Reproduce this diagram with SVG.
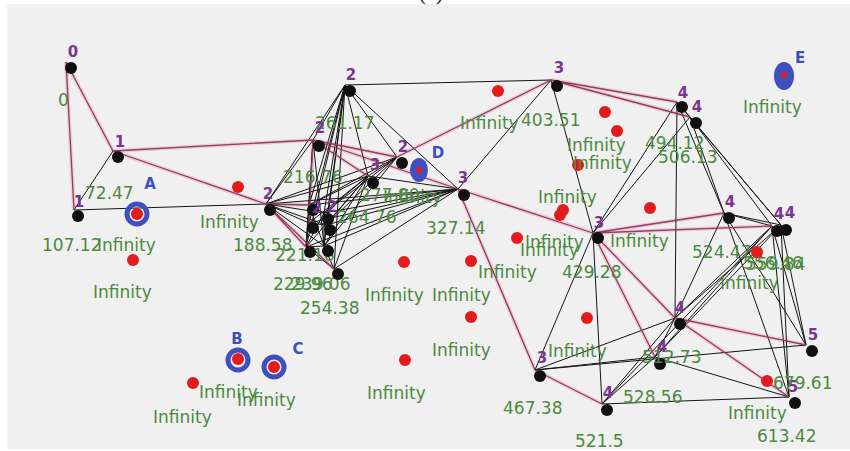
<svg xmlns="http://www.w3.org/2000/svg" xmlns:xlink="http://www.w3.org/1999/xlink" width="850" height="451" viewBox="0 0 850 451">
<style>
.e{stroke:#141414;stroke-width:1;fill:none}
.ph{stroke:#efb3c6;stroke-width:4;fill:none;opacity:.6}
.p{stroke:#8e3f62;stroke-width:1.3;fill:none}
.n{fill:#111}
.r{fill:#e31b1b}
.lp{font-family:"DejaVu Sans",sans-serif;font-weight:bold;font-size:15px;fill:#7a3590;text-anchor:middle}
.lg{font-family:"DejaVu Sans",sans-serif;font-size:17px;fill:#4b8a3e}
.lb{font-family:"DejaVu Sans",sans-serif;font-weight:bold;font-size:15px;fill:#3e4fbf;text-anchor:middle}
.ring{fill:none;stroke:#3e4fbf;stroke-width:5}
</style>
<defs>
<path id="pinkEdges" d="M66,62L113,151 M66,62L74,210 M113,151L266,204 M113,151L313,140 M313,140L397,157 M313,140L368,176 M313,140L458,189 M397,157L551,80 M458,189L593,233 M458,189L535,370 M551,80L677,102 M551,80L690,117 M593,233L724,213 M593,233L772,226 M593,233L675,318 M593,233L655,357 M675,318L806,345 M675,318L789,397 M535,370L602,404 M266,204L309,205 M266,204L306,247 M266,204L334,269 M313,140L309,223"/>
</defs>
<rect x="0" y="0" width="850" height="451" fill="#ffffff"/>
<rect x="7" y="4" width="843" height="445" fill="#f0f0f0"/>
<text x="431" y="0" font-family="Liberation Serif,serif" font-size="22" text-anchor="middle" fill="#222">(c)</text>

<g id="connectors">
<use xlink:href="#pinkEdges" class="ph"/>
<g class="e">
<line x1="74" y1="210" x2="113" y2="151"/>
<line x1="74" y1="210" x2="266" y2="204"/>
<line x1="345" y1="85" x2="551" y2="80"/>
<line x1="345" y1="85" x2="313" y2="140"/>
<line x1="345" y1="85" x2="266" y2="204"/>
<line x1="345" y1="85" x2="397" y2="157"/>
<line x1="345" y1="85" x2="368" y2="176"/>
<line x1="345" y1="85" x2="458" y2="189"/>
<line x1="345" y1="85" x2="309" y2="205"/>
<line x1="345" y1="85" x2="324" y2="213"/>
<line x1="345" y1="85" x2="309" y2="223"/>
<line x1="345" y1="85" x2="326" y2="225"/>
<line x1="345" y1="85" x2="306" y2="247"/>
<line x1="345" y1="85" x2="324" y2="246"/>
<line x1="345" y1="85" x2="334" y2="269"/>
<line x1="313" y1="140" x2="309" y2="205"/>
<line x1="313" y1="140" x2="306" y2="247"/>
<line x1="313" y1="140" x2="266" y2="204"/>
<line x1="313" y1="140" x2="324" y2="246"/>
<line x1="266" y1="204" x2="397" y2="157"/>
<line x1="266" y1="204" x2="368" y2="176"/>
<line x1="266" y1="204" x2="458" y2="189"/>
<line x1="266" y1="204" x2="324" y2="213"/>
<line x1="266" y1="204" x2="326" y2="225"/>
<line x1="266" y1="204" x2="324" y2="246"/>
<line x1="266" y1="204" x2="309" y2="223"/>
<line x1="309" y1="205" x2="368" y2="176"/>
<line x1="324" y1="213" x2="368" y2="176"/>
<line x1="309" y1="223" x2="368" y2="176"/>
<line x1="326" y1="225" x2="368" y2="176"/>
<line x1="306" y1="247" x2="368" y2="176"/>
<line x1="324" y1="246" x2="368" y2="176"/>
<line x1="334" y1="269" x2="368" y2="176"/>
<line x1="309" y1="205" x2="397" y2="157"/>
<line x1="324" y1="213" x2="397" y2="157"/>
<line x1="326" y1="225" x2="397" y2="157"/>
<line x1="324" y1="246" x2="397" y2="157"/>
<line x1="309" y1="205" x2="458" y2="189"/>
<line x1="324" y1="213" x2="458" y2="189"/>
<line x1="309" y1="223" x2="458" y2="189"/>
<line x1="326" y1="225" x2="458" y2="189"/>
<line x1="306" y1="247" x2="458" y2="189"/>
<line x1="324" y1="246" x2="458" y2="189"/>
<line x1="334" y1="269" x2="458" y2="189"/>
<line x1="309" y1="205" x2="324" y2="213"/>
<line x1="309" y1="205" x2="309" y2="223"/>
<line x1="309" y1="205" x2="306" y2="247"/>
<line x1="324" y1="213" x2="326" y2="225"/>
<line x1="324" y1="213" x2="324" y2="246"/>
<line x1="309" y1="223" x2="326" y2="225"/>
<line x1="309" y1="223" x2="306" y2="247"/>
<line x1="326" y1="225" x2="324" y2="246"/>
<line x1="306" y1="247" x2="324" y2="246"/>
<line x1="306" y1="247" x2="334" y2="269"/>
<line x1="324" y1="246" x2="334" y2="269"/>
<line x1="309" y1="205" x2="324" y2="246"/>
<line x1="324" y1="213" x2="306" y2="247"/>
<line x1="368" y1="176" x2="458" y2="189"/>
<line x1="368" y1="176" x2="397" y2="157"/>
<line x1="551" y1="80" x2="458" y2="189"/>
<line x1="551" y1="80" x2="593" y2="233"/>
<line x1="677" y1="102" x2="593" y2="233"/>
<line x1="690" y1="117" x2="593" y2="233"/>
<line x1="677" y1="102" x2="675" y2="318"/>
<line x1="677" y1="102" x2="690" y2="117"/>
<line x1="677" y1="102" x2="724" y2="213"/>
<line x1="690" y1="117" x2="724" y2="213"/>
<line x1="690" y1="117" x2="772" y2="226"/>
<line x1="690" y1="117" x2="781" y2="225"/>
<line x1="677" y1="102" x2="781" y2="225"/>
<line x1="724" y1="213" x2="772" y2="226"/>
<line x1="724" y1="213" x2="781" y2="225"/>
<line x1="724" y1="213" x2="789" y2="397"/>
<line x1="724" y1="213" x2="806" y2="345"/>
<line x1="724" y1="213" x2="675" y2="318"/>
<line x1="772" y1="226" x2="806" y2="345"/>
<line x1="781" y1="225" x2="806" y2="345"/>
<line x1="772" y1="226" x2="789" y2="397"/>
<line x1="781" y1="225" x2="789" y2="397"/>
<line x1="675" y1="318" x2="772" y2="226"/>
<line x1="675" y1="318" x2="781" y2="225"/>
<line x1="655" y1="357" x2="772" y2="226"/>
<line x1="655" y1="357" x2="781" y2="225"/>
<line x1="602" y1="404" x2="772" y2="226"/>
<line x1="675" y1="318" x2="655" y2="357"/>
<line x1="602" y1="404" x2="655" y2="357"/>
<line x1="602" y1="404" x2="675" y2="318"/>
<line x1="655" y1="357" x2="789" y2="397"/>
<line x1="602" y1="404" x2="789" y2="397"/>
<line x1="535" y1="370" x2="593" y2="233"/>
<line x1="535" y1="370" x2="675" y2="318"/>
<line x1="535" y1="370" x2="806" y2="345"/>
<line x1="535" y1="370" x2="655" y2="357"/>
<line x1="593" y1="233" x2="602" y2="404"/>
</g>
<use xlink:href="#pinkEdges" class="p"/>
</g>

<g id="node-n0"><circle class="n" cx="71" cy="68" r="6"/><text class="lp" x="73" y="57">0</text><text class="lg" x="58" y="106">0</text></g>
<g id="node-n1a"><circle class="n" cx="118" cy="157" r="6"/><text class="lp" x="120" y="147">1</text><text class="lg" x="85" y="199">72.47</text></g>
<g id="node-n1b"><circle class="n" cx="78" cy="216" r="6"/><text class="lp" x="79" y="207">1</text><text class="lg" x="42" y="251">107.12</text></g>
<g id="node-n2a"><circle class="n" cx="270" cy="210" r="6"/><text class="lp" x="268" y="199">2</text><text class="lg" x="233" y="251">188.58</text></g>
<g id="node-n2b"><circle class="n" cx="350" cy="91" r="6"/><text class="lp" x="351" y="80">2</text><text class="lg" x="315" y="129">261.17</text></g>
<g id="node-n2c"><circle class="n" cx="319" cy="146" r="6"/><text class="lp" x="320" y="133">2</text><text class="lg" x="283" y="183">216.76</text></g>
<g id="node-n2d"><circle class="n" cx="402" cy="163" r="6"/><text class="lp" x="403" y="152">2</text><text class="lg" x="360" y="201">277.80</text></g>
<g id="node-n3a"><circle class="n" cx="373" cy="183" r="6"/><text class="lp" x="375" y="170">3</text><text class="lg" x="337" y="223">264.76</text></g>
<g id="node-n3b"><circle class="n" cx="464" cy="195" r="6"/><text class="lp" x="463" y="183">3</text><text class="lg" x="426" y="234">327.14</text></g>
<g id="node-c1"><circle class="n" cx="313" cy="210" r="6"/><text class="lp" x="317" y="213">2</text></g>
<g id="node-c2"><circle class="n" cx="328" cy="219" r="6"/><text class="lp" x="332" y="212">2</text></g>
<g id="node-c3"><circle class="n" cx="313" cy="228" r="6"/></g>
<g id="node-c4"><circle class="n" cx="330" cy="230" r="6"/></g>
<g id="node-c5"><circle class="n" cx="310" cy="252" r="6"/><text class="lg" x="275" y="261">221.16</text></g>
<g id="node-c6"><circle class="n" cx="328" cy="251" r="6"/><text class="lg" x="273" y="290">229.96</text><text class="lg" x="291" y="290">239.06</text></g>
<g id="node-c7"><circle class="n" cx="338" cy="274" r="6"/><text class="lg" x="300" y="314">254.38</text></g>
<g id="node-n3c"><circle class="n" cx="557" cy="86" r="6"/><text class="lp" x="559" y="73">3</text><text class="lg" x="521" y="126">403.51</text></g>
<g id="node-n4a"><circle class="n" cx="682" cy="107" r="6"/><text class="lp" x="683" y="98">4</text><text class="lg" x="645" y="149">494.12</text></g>
<g id="node-n4b"><circle class="n" cx="696" cy="123" r="6"/><text class="lp" x="697" y="112">4</text><text class="lg" x="658" y="163">506.13</text></g>
<g id="node-n3d"><circle class="n" cx="598" cy="238" r="6"/><text class="lp" x="599" y="228">3</text><text class="lg" x="562" y="278">429.28</text></g>
<g id="node-n4c"><circle class="n" cx="729" cy="218" r="6"/><text class="lp" x="730" y="207">4</text><text class="lg" x="692" y="258">524.47</text></g>
<g id="node-n4d"><circle class="n" cx="777" cy="231" r="6"/><text class="lp" x="779" y="219">4</text><text class="lg" x="743" y="269">556.46</text></g>
<g id="node-n4e"><circle class="n" cx="786" cy="230" r="6"/><text class="lp" x="790" y="218">4</text><text class="lg" x="746" y="270">559.84</text></g>
<g id="node-n4f"><circle class="n" cx="680" cy="324" r="6"/><text class="lp" x="680" y="313">4</text></g>
<g id="node-n4g"><circle class="n" cx="660" cy="364" r="6"/><text class="lg" x="642" y="363">512.73</text><text class="lp" x="662" y="352">4</text></g>
<g id="node-n5a"><circle class="n" cx="812" cy="351" r="6"/><text class="lp" x="813" y="340">5</text></g>
<g id="node-n5b"><circle class="n" cx="795" cy="403" r="6"/><text class="lp" x="793" y="392">5</text><text class="lg" x="757" y="442">613.42</text></g>
<g id="node-n4h"><circle class="n" cx="607" cy="410" r="6"/><text class="lp" x="608" y="398">4</text><text class="lg" x="623" y="403">528.56</text><text class="lg" x="575" y="447">521.5</text></g>
<g id="node-n3e"><circle class="n" cx="540" cy="376" r="6"/><text class="lp" x="542" y="363">3</text><text class="lg" x="503" y="414">467.38</text></g>

<g id="sensors">
<circle class="r" cx="238" cy="187" r="6"/>
<circle class="r" cx="133" cy="260" r="6"/>
<circle class="r" cx="404" cy="262" r="6"/>
<circle class="r" cx="471" cy="261" r="6"/>
<circle class="r" cx="471" cy="317" r="6"/>
<circle class="r" cx="405" cy="360" r="6"/>
<circle class="r" cx="193" cy="383" r="6"/>
<circle class="r" cx="498" cy="91" r="6"/>
<circle class="r" cx="605" cy="112" r="6"/>
<circle class="r" cx="617" cy="131" r="6"/>
<circle class="r" cx="578" cy="165" r="6"/>
<circle class="r" cx="650" cy="208" r="6"/>
<circle class="r" cx="560" cy="215" r="6"/>
<circle class="r" cx="563" cy="210" r="6"/>
<circle class="r" cx="517" cy="238" r="6"/>
<circle class="r" cx="587" cy="318" r="6"/>
<circle class="r" cx="757" cy="252" r="6"/>
<circle class="r" cx="767" cy="381" r="6"/>
</g>
<g id="anchor-A"><circle class="ring" cx="137" cy="214" r="10"/><circle class="r" cx="137" cy="214" r="6"/><text class="lb" x="150" y="189">A</text></g>
<g id="anchor-B"><circle class="ring" cx="238" cy="360" r="10"/><circle class="r" cx="238" cy="359" r="6"/><text class="lb" x="237" y="344">B</text></g>
<g id="anchor-C"><circle class="ring" cx="274" cy="367" r="10"/><circle class="r" cx="274" cy="367" r="6"/><text class="lb" x="298" y="354">C</text></g>
<g id="anchor-D"><ellipse cx="419" cy="170" rx="9" ry="12" fill="#3e4fbf"/><circle class="r" cx="419" cy="170" r="3"/><text class="lb" x="438" y="158">D</text></g>
<g id="anchor-E"><ellipse cx="784" cy="76" rx="10" ry="14" fill="#3e4fbf"/><circle class="r" cx="784" cy="75" r="3"/><text class="lb" x="800" y="63">E</text></g>

<g id="labels" class="lg">
<text class="lg" x="97" y="251">Infinity</text>
<text class="lg" x="93" y="298">Infinity</text>
<text class="lg" x="200" y="228">Infinity</text>
<text class="lg" x="383" y="203">Infinity</text>
<text class="lg" x="460" y="129">Infinity</text>
<text class="lg" x="567" y="151">Infinity</text>
<text class="lg" x="573" y="169">Infinity</text>
<text class="lg" x="743" y="113">Infinity</text>
<text class="lg" x="538" y="203">Infinity</text>
<text class="lg" x="525" y="248">Infinity</text>
<text class="lg" x="520" y="256">Infinity</text>
<text class="lg" x="610" y="247">Infinity</text>
<text class="lg" x="478" y="278">Infinity</text>
<text class="lg" x="365" y="301">Infinity</text>
<text class="lg" x="432" y="301">Infinity</text>
<text class="lg" x="432" y="356">Infinity</text>
<text class="lg" x="367" y="399">Infinity</text>
<text class="lg" x="548" y="357">Infinity</text>
<text class="lg" x="720" y="289">Infinity</text>
<text class="lg" x="773" y="389">679.61</text>
<text class="lg" x="728" y="419">Infinity</text>
<text class="lg" x="199" y="398">Infinity</text>
<text class="lg" x="237" y="406">Infinity</text>
<text class="lg" x="153" y="423">Infinity</text>
</g>
</svg>
